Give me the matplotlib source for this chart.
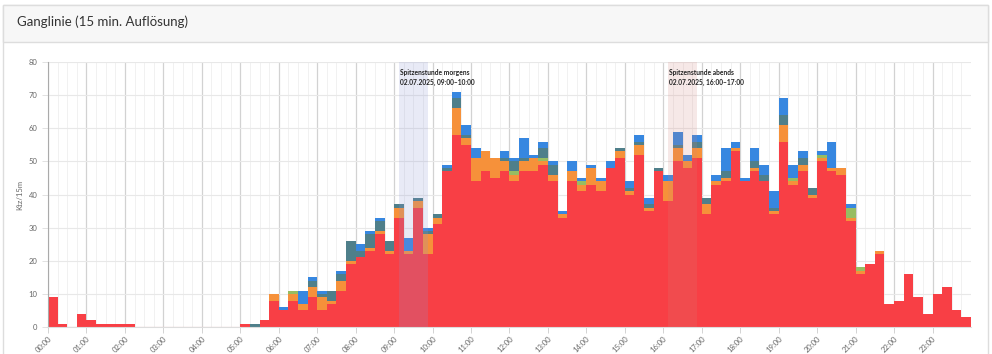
import numpy as np
import matplotlib
matplotlib.use('Agg')
import matplotlib.pyplot as plt
from matplotlib.patches import Rectangle

plt.rcParams['font.family'] = ['Lato', 'DejaVu Sans']

# Ganglinie, 15-min Intervalle (96 Werte), gestapelt nach Fahrzeugklassen
hours = [f'{h:02d}:00' for h in range(24)]

# jede Zeile = eine Stunde (4 x 15 min)
red = [9, 1, 0, 4,   2, 1, 1, 1,   1, 0, 0, 0,   0, 0, 0, 0,
       0, 0, 0, 0,   1, 0, 2, 8,   5, 8, 5, 9,   5, 7, 11, 19,
       21, 23, 28, 22,   33, 22, 36, 22,   31, 47, 58, 55,   44, 47, 45, 47,
       44, 47, 47, 49,   44, 33, 44, 41,   43, 41, 48, 51,   40, 52, 35, 47,
       38, 50, 48, 51,   34, 43, 44, 53,   44, 47, 44, 34,   56, 43, 47, 39,
       50, 47, 46, 32,   16, 19, 22, 7,   8, 16, 9, 4,   10, 12, 5, 3]
orange = [0, 0, 0, 0,   0, 0, 0, 0,   0, 0, 0, 0,   0, 0, 0, 0,
          0, 0, 0, 0,   0, 0, 0, 2,   0, 2, 2, 3,   4, 1, 3, 1,
          0, 1, 1, 1,   3, 1, 2, 6,   2, 0, 8, 2,   7, 6, 6, 3,
          2, 3, 4, 1,   2, 1, 3, 2,   5, 3, 0, 2,   1, 3, 1, 0,
          6, 4, 2, 3,   3, 1, 1, 1,   0, 1, 0, 1,   5, 1, 2, 1,
          1, 1, 2, 1,   1, 0, 1, 0,   0, 0, 0, 0,   0, 0, 0, 0]
green = [0, 0, 0, 0,   0, 0, 0, 0,   0, 0, 0, 0,   0, 0, 0, 0,
         0, 0, 0, 0,   0, 0, 0, 0,   0, 1, 0, 0,   0, 0, 0, 0,
         0, 0, 0, 0,   0, 0, 0, 0,   0, 0, 0, 0,   0, 0, 0, 0,
         1, 0, 0, 1,   0, 0, 0, 1,   0, 0, 0, 0,   0, 0, 0, 0,
         0, 0, 0, 0,   0, 0, 0, 0,   0, 0, 0, 0,   0, 1, 0, 0,
         1, 0, 0, 3,   1, 0, 0, 0,   0, 0, 0, 0,   0, 0, 0, 0]
teal = [0, 0, 0, 0,   0, 0, 0, 0,   0, 0, 0, 0,   0, 0, 0, 0,
        0, 0, 0, 0,   0, 1, 0, 0,   0, 0, 0, 2,   1, 3, 2, 6,
        2, 4, 3, 3,   1, 0, 1, 1,   1, 1, 3, 1,   0, 0, 0, 1,
        3, 1, 0, 3,   3, 0, 0, 0,   0, 0, 0, 1,   1, 1, 1, 1,
        0, 1, 0, 2,   2, 0, 2, 0,   0, 2, 2, 1,   3, 0, 2, 2,
        0, 0, 0, 0,   0, 0, 0, 0,   0, 0, 0, 0,   0, 0, 0, 0]
blue = [0, 0, 0, 0,   0, 0, 0, 0,   0, 0, 0, 0,   0, 0, 0, 0,
        0, 0, 0, 0,   0, 0, 0, 0,   1, 0, 4, 1,   1, 0, 1, 0,
        2, 1, 1, 0,   0, 4, 0, 1,   0, 1, 2, 3,   3, 0, 0, 2,
        1, 6, 1, 2,   1, 1, 3, 1,   1, 1, 2, 0,   2, 2, 2, 0,
        2, 4, 2, 2,   0, 2, 7, 2,   1, 4, 3, 5,   5, 4, 2, 0,
        1, 8, 0, 1,   0, 0, 0, 0,   0, 0, 0, 0,   0, 0, 0, 0]

series = [red, orange, green, teal, blue]
colors = ['#f83f45', '#f6913a', '#97bd62', '#4f7f8a', '#3787e0']

peaks = [('Spitzenstunde morgens', '02.07.2025, 09:00–10:00', 9, '#8c96d2', 0.2),
         ('Spitzenstunde abends', '02.07.2025, 16:00–17:00', 16, '#d2827a', 0.18)]

fig = plt.figure(figsize=(9.92, 3.54), dpi=100)

# Karten-Rahmen mit Kopfzeile
card = Rectangle((3 / 992, -0.01), 985 / 992, 1 - 5 / 354 + 0.01,
                 transform=fig.transFigure, facecolor='white',
                 edgecolor='#dddddd', lw=1, zorder=-2)
head = Rectangle((3 / 992, 1 - 42 / 354), 985 / 992, 37 / 354,
                 transform=fig.transFigure, facecolor='#f7f7f7',
                 edgecolor='#dddddd', lw=1, zorder=-1)
fig.add_artist(card)
fig.add_artist(head)
fig.text(17 / 992, 1 - 22 / 354, 'Ganglinie (15 min. Auflösung)', fontsize=9.5,
         color='#333333', va='center', ha='left')

ax = fig.add_axes([48 / 992, 27 / 354, 923 / 992, 265 / 354])
ax.set_facecolor('none')

x = np.arange(96) / 4.0
bottom = np.zeros(96)
for vals, c in zip(series, colors):
    vals = np.array(vals, dtype=float)
    ax.bar(x, vals, width=0.25, bottom=bottom, align='edge', color=c,
           linewidth=0, zorder=2)
    bottom += vals

# leere Intervalle: nur die Kante an der Nulllinie
empty = bottom == 0
ax.bar(x[empty], bottom[empty], width=0.25, align='edge', color='none',
       edgecolor='#fb9a9d', linewidth=0.8, zorder=2)

for l1, l2, h, c, a in peaks:
    ax.axvspan(h + 0.125, h + 0.875, color=c, alpha=a, lw=0, zorder=3)
    ax.text(h + 0.16, 77.8, l1 + '\n' + l2, fontsize=4.8, fontweight='bold',
            va='top', ha='left', color='#222222', linespacing=1.5, zorder=4)

ax.set_xlim(0, 24)
ax.set_ylim(0, 80)
ax.set_yticks(np.arange(0, 81, 10))
ax.set_xticks(np.arange(24))
ax.set_xticklabels(hours, rotation=45, ha='right', rotation_mode='anchor')
ax.set_xticks(np.arange(96) / 4.0, minor=True)
ax.tick_params(axis='both', labelsize=5.5, colors='#666666', length=4, width=0.6)
ax.tick_params(axis='x', which='minor', length=0)
ax.tick_params(axis='x', which='major', pad=2, color='#cccccc')
ax.tick_params(axis='y', color='#dddddd')

ax.grid(axis='y', color='#e8e8e8', lw=0.8, zorder=0)
ax.grid(axis='x', which='major', color='#d2d2d2', lw=0.9, zorder=0)
ax.grid(axis='x', which='minor', color='#efefef', lw=0.6, zorder=0)
ax.set_axisbelow(True)

for s in ['top', 'right']:
    ax.spines[s].set_visible(False)
ax.spines['left'].set_color('#aaaaaa')
ax.spines['left'].set_linewidth(0.8)
ax.spines['bottom'].set_color('#dddddd')

ax.set_ylabel('Ktz/15m', fontsize=5.5, color='#666666', labelpad=4)

fig.savefig('out.png', dpi=100)
